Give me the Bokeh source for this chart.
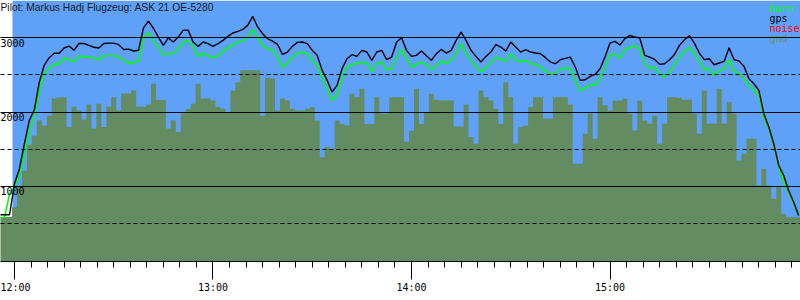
from bokeh.plotting import figure
from bokeh.models import ColumnDataSource, FixedTicker, Grid, BoxAnnotation, Range1d
from bokeh.core.properties import value
from bokeh.embed import file_html
from bokeh.resources import INLINE

title_text = "Pilot: Markus Hadj Flugzeug: ASK 21 OE-5280"

# logger time, minutes after 12:00
t_min = [
    -4.5, -3.0, -1.5, 0.0, 1.5, 3.0, 4.5, 6.0, 7.5, 9.0,
    10.5, 12.0, 13.5, 15.0, 16.5, 18.0, 19.5, 21.0, 22.5, 24.0,
    25.5, 27.0, 28.5, 30.0, 31.5, 33.0, 34.5, 36.0, 37.5, 39.0,
    40.5, 42.0, 43.5, 45.0, 46.5, 48.0, 49.5, 51.0, 52.5, 54.0,
    55.5, 57.0, 58.5, 60.0, 61.5, 63.0, 64.5, 66.0, 67.5, 69.0,
    70.5, 72.0, 73.5, 75.0, 76.5, 78.0, 79.5, 81.0, 82.5, 84.0,
    85.5, 87.0, 88.5, 90.0, 91.5, 93.0, 94.5, 96.0, 97.5, 99.0,
    100.5, 102.0, 103.5, 105.0, 106.5, 108.0, 109.5, 111.0, 112.5, 114.0,
    115.5, 117.0, 118.5, 120.0, 121.5, 123.0, 124.5, 126.0, 127.5, 129.0,
    130.5, 132.0, 133.5, 135.0, 136.5, 138.0, 139.5, 141.0, 142.5, 144.0,
    145.5, 147.0, 148.5, 150.0, 151.5, 153.0, 154.5, 156.0, 157.5, 159.0,
    160.5, 162.0, 163.5, 165.0, 166.5, 168.0, 169.5, 171.0, 172.5, 174.0,
    175.5, 177.0, 178.5, 180.0, 181.5, 183.0, 184.5, 186.0, 187.5, 189.0,
    190.5, 192.0, 193.5, 195.0, 196.5, 198.0, 199.5, 201.0, 202.5, 204.0,
    205.5, 207.0, 208.5, 210.0, 211.5, 213.0, 214.5, 216.0, 217.5, 219.0,
    220.5, 222.0, 223.5, 225.0, 226.5, 228.0, 229.5, 231.0, 232.5, 234.0,
    235.5, 237.0,
]

gps = [
    620, 620, 620, 1036, 1238, 1574, 1890, 2030, 2400, 2630,
    2730, 2790, 2790, 2860, 2885, 2830, 2920, 2920, 2895, 2870,
    2860, 2920, 2925, 2925, 2905, 2840, 2845, 2820, 2830, 3130,
    3220, 3125, 3007, 2895, 2995, 2940, 3007, 3100, 3100, 2940,
    2880, 2940, 2918, 2882, 2918, 2962, 3016, 3061, 3083, 3110,
    3164, 3285, 3142, 3052, 2985, 2953, 2909, 2774, 2806, 2882,
    2935, 2940, 2918, 2828, 2761, 2559, 2425, 2268, 2358, 2582,
    2716, 2770, 2747, 2828, 2806, 2694, 2806, 2828, 2703, 2738,
    2940, 2998, 2828, 2747, 2761, 2819, 2756, 2694, 2783, 2841,
    2792, 2828, 2962, 3074, 2962, 2828, 2747, 2671, 2747, 2806,
    2904, 2873, 2819, 2940, 2873, 2806, 2837, 2806, 2792, 2783,
    2730, 2671, 2649, 2703, 2720, 2738, 2604, 2425, 2434, 2479,
    2505, 2582, 2738, 2926, 2949, 2900, 2985, 3030, 3007, 2994,
    2761, 2738, 2707, 2640, 2649, 2703, 2774, 2895, 2971, 3025,
    2926, 2792, 2703, 2716, 2635, 2658, 2680, 2864, 2703, 2685,
    2613, 2447, 2380, 2290, 1977, 1798, 1574, 1282, 1148, 946,
    790, 610,
]

baro = [
    580, 585, 900, 990, 1150, 1440, 1730, 1955, 2270, 2514,
    2590, 2640, 2650, 2730, 2700, 2680, 2760, 2740, 2740, 2730,
    2700, 2760, 2760, 2760, 2740, 2700, 2650, 2670, 2690, 3000,
    3065, 2955, 2873, 2770, 2783, 2783, 2850, 2940, 2955, 2880,
    2740, 2792, 2760, 2730, 2756, 2819, 2860, 2904, 2940, 2958,
    3007, 3110, 2998, 2895, 2850, 2828, 2738, 2604, 2658, 2738,
    2792, 2806, 2783, 2694, 2626, 2461, 2313, 2156, 2223, 2456,
    2604, 2640, 2650, 2671, 2658, 2546, 2650, 2671, 2568, 2582,
    2738, 2841, 2716, 2604, 2644, 2667, 2631, 2568, 2626, 2685,
    2649, 2703, 2774, 2918, 2783, 2694, 2613, 2541, 2595, 2671,
    2730, 2716, 2680, 2783, 2703, 2671, 2694, 2649, 2640, 2604,
    2550, 2514, 2514, 2582, 2590, 2582, 2425, 2281, 2322, 2358,
    2371, 2447, 2604, 2770, 2783, 2720, 2837, 2868, 2895, 2837,
    2649, 2582, 2604, 2505, 2470, 2546, 2640, 2738, 2815, 2873,
    2783, 2680, 2568, 2582, 2492, 2559, 2582, 2703, 2550, 2514,
    2447, 2358, 2290, 2223, 1932, 1775, 1551, 1260, 1058, 924,
    767, 610,
]

gnd = [
    590, 590, 590, 720, 1000, 1215, 1560, 1680, 1890, 1820,
    1950, 2180, 2200, 2200, 1800, 2070, 2020, 1900, 2100, 1780,
    2110, 1800, 2070, 2200, 2020, 2250, 2250, 2290, 2070, 2070,
    2100, 2380, 2160, 2160, 1780, 1890, 1730, 1980, 2040, 2110,
    2380, 2180, 2180, 2156, 2066, 2044, 2000, 2290, 2400, 2560,
    2560, 2560, 2560, 1950, 2460, 2450, 2020, 2180, 2156, 2044,
    2022, 2022, 2044, 2066, 1887, 1394, 1530, 1500, 1887, 1840,
    1820, 2246, 2200, 2313, 1840, 1840, 2200, 1977, 1977, 2200,
    2200, 2200, 1600, 1750, 2313, 1840, 2000, 2246, 2165, 2156,
    2156, 2156, 1807, 1807, 2100, 1663, 1574, 2290, 2200, 2156,
    2044, 1840, 2400, 2200, 1574, 1800, 1820, 2066, 2200, 2200,
    1910, 1910, 2200, 2200, 2200, 2100, 1305, 1305, 1708, 1980,
    1640, 2200, 2090, 2022, 2156, 2156, 2180, 1977, 1753, 2156,
    1887, 1842, 1950, 1574, 1842, 2200, 2200, 2190, 2165, 2165,
    1977, 1708, 2290, 1842, 1842, 2313, 1842, 2134, 1977, 1350,
    1440, 1640, 1640, 1014, 1238, 1014, 834, 991, 633, 588,
    588, 588,
]

legend_labels = ["baro", "gps", "noise", "gnd"]
legend_colors = ["#00ff00", "#000000", "#ff0000", "#6b8f63"]

hour_ticks = [0, 60, 120, 180]
hour_labels = ["12:00", "13:00", "14:00", "15:00"]
five_min_ticks = list(range(0, 240, 5))
alt_major = [1000, 2000, 3000]
alt_minor = [500, 1500, 2500]
alt_labels = ["1000", "2000", "3000"]

recording_start = -0.6   # minutes after 12:00
sample_interval = 1.5

SKY = "#5fa0f8"
GROUND = "#638c63"
MONO = "DejaVu Sans Mono"

x_lo, x_hi = -4.23, 237.58
y_lo, y_hi = -8, 3498

p = figure(width=800, height=300, x_range=Range1d(x_lo, x_hi), y_range=Range1d(y_lo, y_hi),
           output_backend="svg", toolbar_location=None, y_axis_location=None,
           min_border=0, min_border_left=0, min_border_right=0, min_border_top=0,
           min_border_bottom=39, background_fill_color="white",
           border_fill_color="white", outline_line_color=None)
for g in p.xgrid:
    g.visible = False
for g in p.ygrid:
    g.visible = False

p.add_layout(BoxAnnotation(left=recording_start, fill_color=SKY, fill_alpha=1.0,
                           line_color=None, level="underlay"))

# terrain as a stepped area (each logger sample holds for one interval)
step_x, step_y = [], []
for t, h in zip(t_min, gnd):
    step_x += [t - sample_interval / 2, t + sample_interval / 2]
    step_y += [h, h]
p.varea(x=step_x, y1=[y_lo - 50] * len(step_x), y2=step_y, fill_color=GROUND)

src = ColumnDataSource(dict(t=t_min, gps=gps, baro=baro))
p.line(x="t", y="baro", source=src, line_color="#00ff00", line_width=1.6)
p.line(x="t", y="gps", source=src, line_color="black", line_width=1.4)

p.add_layout(Grid(dimension=1, ticker=FixedTicker(ticks=alt_major), grid_line_color="black",
                  grid_line_width=1, level="guide"))
p.add_layout(Grid(dimension=1, ticker=FixedTicker(ticks=alt_minor), grid_line_color="black",
                  grid_line_width=1, grid_line_dash="4 3", level="guide"))

ylab = ColumnDataSource(dict(x=[x_lo] * len(alt_major), y=alt_major, text=alt_labels))
p.text(x="x", y="y", text="text", source=ylab, text_baseline="top", text_align="left",
       y_offset=1, text_font=value(MONO), text_font_size="10px", text_color="black")

p.text(x=[x_lo], y=[y_hi], text=[title_text], text_baseline="top", text_align="left",
       y_offset=1, text_font=value("Liberation Sans"), text_font_size="10.3px",
       text_color="#1a1a1a")

leg = ColumnDataSource(dict(x=[228.2] * 4, y=[y_hi] * 4, text=legend_labels,
                            color=legend_colors, dy=[2, 12, 22, 32]))
p.text(x="x", y="y", text="text", source=leg, text_color="color", y_offset="dy",
       text_baseline="top", text_align="left", text_font=value(MONO),
       text_font_size="10px")

ax = p.xaxis[0]
ax.ticker = FixedTicker(ticks=hour_ticks, minor_ticks=five_min_ticks)
ax.major_label_overrides = {k: v for k, v in zip(hour_ticks, hour_labels)}
ax.axis_line_color = "black"
ax.axis_line_width = 1
ax.major_tick_in = 0
ax.major_tick_out = 18
ax.minor_tick_in = 0
ax.minor_tick_out = 6
ax.major_tick_line_color = "black"
ax.minor_tick_line_color = "black"
ax.major_label_standoff = 2
ax.major_label_text_font = MONO
ax.major_label_text_font_size = "10px"
ax.major_label_text_color = "black"

open("out.html", "w").write(file_html(p, INLINE))
